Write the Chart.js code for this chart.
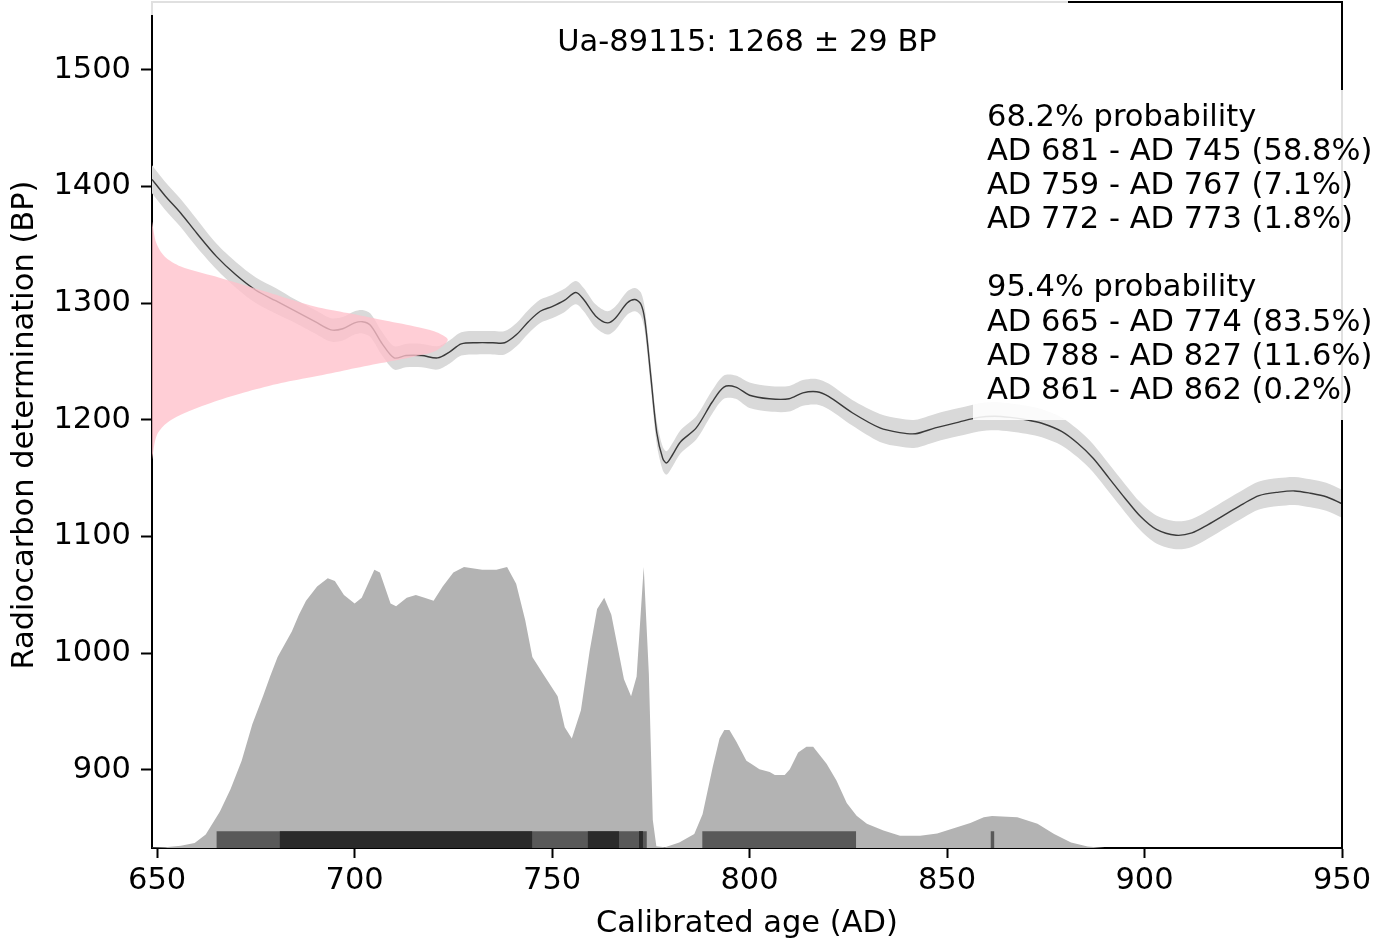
<!DOCTYPE html>
<html>
<head>
<meta charset="utf-8">
<script src="https://cdn.jsdelivr.net/npm/chart.js@4"></script>
<style>
  html, body { margin: 0; padding: 0; background: #fff; }
  #wrap { width: 1391px; height: 942px; }
</style>
</head>
<body>
<div id="wrap"><canvas id="calChart" width="1391" height="942"></canvas></div>
<script>
const sampleLabel = 'Ua-89115: 1268 ± 29 BP';
const xTitle = 'Calibrated age (AD)';
const yTitle = 'Radiocarbon determination (BP)';
const xTicks = [650, 700, 750, 800, 850, 900, 950];
const yTicks = [900, 1000, 1100, 1200, 1300, 1400, 1500];

// calibration curve (mean and 1 sigma)
const curveAge = [648.7, 652, 656, 660, 665, 670, 675, 680, 685, 690, 694, 697, 700, 702, 704, 707, 710, 713, 717, 721,
  724, 727, 731, 735, 738, 741, 744, 747, 750, 753, 756, 758, 761, 764, 766, 769, 771, 772.5, 773.5, 775,
  776.5, 778, 779, 780.5, 782.5, 786.5, 790.5, 793.5, 796.5, 800, 805, 810, 813.5, 817, 820, 826, 833, 838, 842, 847,
  853, 858, 862, 866, 870, 874, 879, 883, 887, 891, 895, 899, 903, 908, 912, 916, 921, 925, 929, 934,
  938, 942, 946, 950];
const curveBP = [1406, 1392, 1377, 1360, 1340, 1324, 1311, 1302, 1293, 1284, 1277, 1278, 1283, 1284, 1281, 1265, 1253, 1255, 1255, 1253,
  1258, 1265, 1266, 1266, 1266, 1273, 1284, 1293, 1297, 1302, 1309, 1303, 1289, 1283, 1287, 1300, 1303, 1299, 1285, 1237,
  1189, 1167, 1163, 1170, 1181, 1193, 1215, 1228, 1228, 1221, 1218, 1218, 1223, 1224, 1220, 1206, 1193, 1189, 1188, 1193,
  1198, 1202, 1203, 1202, 1200, 1197, 1190, 1180, 1167, 1150, 1133, 1117, 1106, 1101, 1103, 1110, 1120, 1128, 1135, 1138,
  1139, 1137, 1134, 1128];
const curveSigma = [12, 12, 12, 12, 11, 11, 11, 11, 10, 10, 10, 10, 10, 10, 10, 10, 10, 10, 10, 10,
  10, 10, 10, 10, 10, 10, 10, 10, 10, 10, 10, 10, 10, 10, 10, 10, 10, 10, 10, 10,
  10, 10, 10, 10, 10, 10, 10, 10, 10, 11, 11, 11, 11, 11, 11, 11, 12, 12, 12, 12,
  12, 12, 12, 12, 12, 12, 12, 12, 12, 12, 12, 12, 12, 12, 12, 12, 12, 12, 12, 12,
  12, 12, 12, 12];

// measured date shown as a sideways distribution (outline)
const pinkBP = [1370, 1351.5, 1340, 1331.4, 1322.9, 1314.3, 1305.7, 1297.1, 1291.4, 1285.7, 1280, 1275.7, 1268.6,
  1258.6, 1254.3, 1248.6, 1242.9, 1237.1, 1231.5, 1224.3, 1215.7, 1204.3, 1195.7, 1185.7, 1166];
const pinkAge = [648.7, 649.8, 651.9, 656.0, 664.6, 673.0, 681.4, 689.9, 698.3, 706.7, 715.2, 720.3, 723.6,
  720.3, 715.2, 706.7, 698.3, 689.9, 681.4, 673.0, 664.6, 656.0, 651.9, 649.8, 648.7];

// calibrated probability (percent of max)
const densAge = [647, 652, 656, 659.5, 662.3, 665.9, 668.6, 671.4, 674.1, 676.8, 678.6, 680.5, 684.1, 685.9, 687.7, 690.5, 693.2, 695, 697.3, 700,
  701.8, 705, 706.4, 709.1, 710.5, 713.2, 715.5, 717.7, 720, 722.3, 725, 727.7, 732.3, 735.9, 738.6, 740.9, 743.2, 745, 747.7, 750,
  751.4, 753.2, 755, 757.3, 759.5, 761.4, 763.2, 765, 768.2, 770, 771.4, 773.2, 774.5, 775.5, 776.4, 778.6, 782.2, 786, 788.1, 790.7,
  792.4, 793.6, 794.9, 796.6, 799.2, 800.4, 802.5, 805.1, 806.4, 808.9, 810.2, 812.3, 814.4, 816.1, 817.8, 819.5, 822, 824.6, 827.1, 829.7,
  833.9, 838.1, 843.2, 847.5, 852.5, 855.9, 859.3, 861.4, 867.8, 872.9, 877.1, 881.4, 885.6, 890];
const densProb = [0, 0.3, 0.8, 1.8, 4.8, 13, 21, 31, 44, 54, 61, 68, 77, 83, 88, 93, 96, 95, 90, 87,
  89, 99, 98, 87, 86, 89, 90, 89, 88, 93, 98, 100, 99, 99, 100, 94, 81, 68, 62, 57,
  54, 43, 39, 49, 70, 85, 89, 83, 60, 54, 61, 100, 62, 10, 0.6, 0.3, 2, 5, 12, 29,
  39, 42, 42, 38, 31, 30, 28, 27, 26, 26, 28, 34, 36, 36, 33, 30, 24, 16, 11.5, 8.6,
  6.2, 4.4, 4.4, 5.2, 7.4, 8.9, 10.9, 11.4, 10.9, 8.6, 5, 2, 0.5, 0];

// highest posterior density ranges
const hpd68 = [[681, 745], [759, 767], [772, 773]];
const hpd95 = [[665, 774], [788, 827], [861, 862]];
const hpd68Text = ['AD 681 - AD 745 (58.8%)', 'AD 759 - AD 767 (7.1%)', 'AD 772 - AD 773 (1.8%)'];
const hpd95Text = ['AD 665 - AD 774 (83.5%)', 'AD 788 - AD 827 (11.6%)', 'AD 861 - AD 862 (0.2%)'];

const FONT = '"DejaVu Sans"';
const FONT_SIZE = 30.5;
const barHeight = 6; // in probability-axis units

function pts(xs, ys) {
    return xs.map((x, i) => ({ x: x, y: ys[i] }));
}

const datasets = [];

// pink measurement (on top)
datasets.push({
    data: pts(pinkAge, pinkBP),
    showLine: true, pointRadius: 0, borderWidth: 0, tension: 0.3,
    backgroundColor: 'rgba(255, 192, 203, 0.78)',
    borderColor: 'rgba(0,0,0,0)',
    fill: 'shape', order: 1
});

// curve mean
datasets.push({
    data: pts(curveAge, curveBP),
    showLine: true, pointRadius: 0, borderWidth: 1.4, tension: 0.3,
    borderColor: '#3a3a3a', fill: false, order: 2
});

// curve band
datasets.push({
    data: pts(curveAge, curveBP.map((v, i) => v + curveSigma[i])),
    showLine: true, pointRadius: 0, borderWidth: 0, tension: 0.3,
    borderColor: 'rgba(0,0,0,0)', backgroundColor: '#d9d9d9',
    fill: '+1', order: 3
});
datasets.push({
    data: pts(curveAge, curveBP.map((v, i) => v - curveSigma[i])),
    showLine: true, pointRadius: 0, borderWidth: 0, tension: 0.3,
    borderColor: 'rgba(0,0,0,0)', fill: false, order: 3
});

hpd68.forEach(r => datasets.push({
    data: [{ x: r[0], y: barHeight }, { x: r[1], y: barHeight }],
    yAxisID: 'y2', showLine: true, pointRadius: 0, borderWidth: 0,
    borderColor: 'rgba(0,0,0,0)', backgroundColor: '#2b2b2b',
    fill: 'start', order: 4
}));
hpd95.forEach(r => datasets.push({
    data: [{ x: r[0], y: barHeight }, { x: r[1], y: barHeight }],
    yAxisID: 'y2', showLine: true, pointRadius: 0, borderWidth: 0,
    borderColor: 'rgba(0,0,0,0)', backgroundColor: '#595959',
    fill: 'start', order: 5
}));

// probability distribution
datasets.push({
    data: pts(densAge, densProb),
    yAxisID: 'y2', showLine: true, pointRadius: 0, borderWidth: 0, tension: 0,
    borderColor: 'rgba(0,0,0,0)', backgroundColor: '#b3b3b3',
    fill: 'start', order: 6
});

const annotate = {
    id: 'annotate',
    afterDraw(chart) {
        const ctx = chart.ctx;
        const a = chart.chartArea;
        ctx.save();
        // top and right spines
        ctx.strokeStyle = '#000';
        ctx.lineWidth = 2;
        ctx.beginPath();
        ctx.moveTo(a.left, a.top);
        ctx.lineTo(a.right, a.top);
        ctx.lineTo(a.right, a.bottom);
        ctx.stroke();

        // translucent text boxes
        ctx.fillStyle = 'rgba(255,255,255,0.88)';
        ctx.fillRect(a.left - 14, 0, 1068 - a.left + 14, 15);
        ctx.fillRect(973, 90, 412, 330);

        ctx.fillStyle = '#000';
        ctx.font = FONT_SIZE + 'px ' + FONT;
        ctx.textBaseline = 'middle';
        ctx.textAlign = 'center';
        ctx.fillText(sampleLabel, (a.left + a.right) / 2, 43);
        ctx.fillText(xTitle, (a.left + a.right) / 2, 924);

        ctx.save();
        ctx.translate(25, (a.top + a.bottom) / 2);
        ctx.rotate(-Math.PI / 2);
        ctx.fillText(yTitle, 0, 0);
        ctx.restore();

        ctx.textAlign = 'left';
        const lines = ['68.2% probability'].concat(hpd68Text, [''], ['95.4% probability'], hpd95Text);
        lines.forEach((t, i) => {
            ctx.fillText(t, 987, 118 + i * 34.1);
        });
        ctx.restore();
    }
};

new Chart(document.getElementById('calChart'), {
    type: 'scatter',
    data: { datasets: datasets },
    options: {
        responsive: false,
        animation: false,
        devicePixelRatio: 1,
        layout: { padding: { top: 2, right: 49, bottom: 0, left: 0 } },
        plugins: { legend: { display: false }, tooltip: { enabled: false } },
        scales: {
            x: {
                type: 'linear', position: 'bottom', min: 648.7, max: 950,
                afterBuildTicks: s => { s.ticks = xTicks.map(v => ({ value: v })); },
                afterFit: s => { s.height = 94; s.paddingLeft = 0; s.paddingRight = 0; },
                grid: { display: true, drawOnChartArea: false, drawTicks: true, tickLength: 10, tickWidth: 2, tickColor: '#000' },
                border: { display: true, color: '#000', width: 2 },
                ticks: { color: '#000', font: { family: 'DejaVu Sans', size: FONT_SIZE }, padding: 5, maxRotation: 0, autoSkip: false,
                         callback: v => String(v) }
            },
            y: {
                type: 'linear', position: 'left', min: 833, max: 1558,
                afterBuildTicks: s => { s.ticks = yTicks.map(v => ({ value: v })); },
                afterFit: s => { s.width = 152; s.paddingTop = 0; s.paddingBottom = 0; },
                grid: { display: true, drawOnChartArea: false, drawTicks: true, tickLength: 11, tickWidth: 2, tickColor: '#000' },
                border: { display: true, color: '#000', width: 2 },
                ticks: { color: '#000', font: { family: 'DejaVu Sans', size: FONT_SIZE }, padding: 10, autoSkip: false,
                         callback: v => String(v) }
            },
            y2: {
                type: 'linear', position: 'right', display: false, min: 0, max: 301
            }
        }
    },
    plugins: [annotate]
});
</script>
</body>
</html>
